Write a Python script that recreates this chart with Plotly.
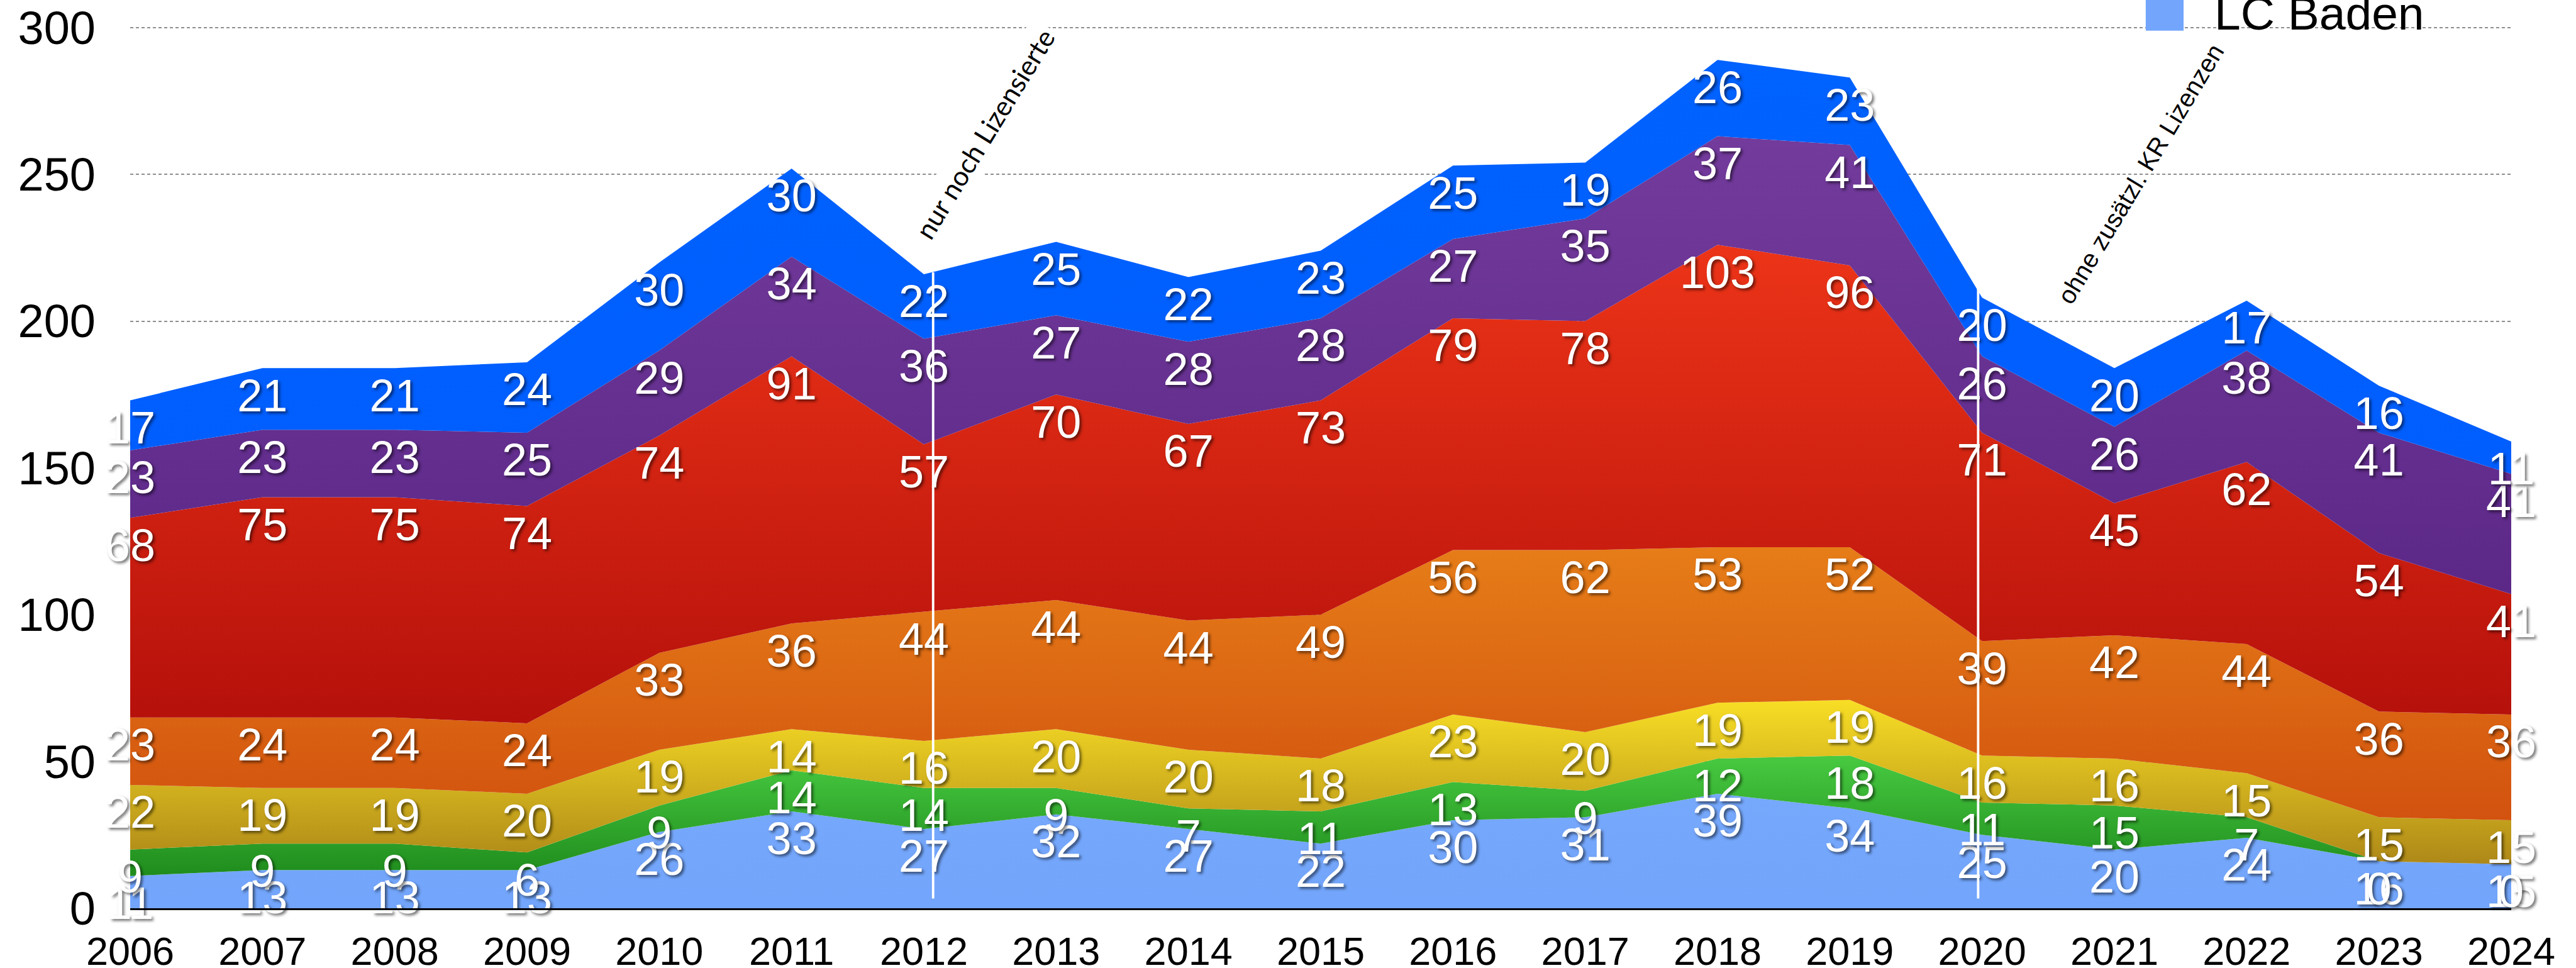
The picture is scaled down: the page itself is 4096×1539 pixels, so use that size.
import plotly.graph_objects as go
import numpy as np

# ---------------- data ----------------
years = list(range(2006, 2025))
lc_baden = [11, 13, 13, 13, 26, 33, 27, 32, 27, 22, 30, 31, 39, 34, 25, 20, 24, 16, 15]
green    = [9, 9, 9, 6, 9, 14, 14, 9, 7, 11, 13, 9, 12, 18, 11, 15, 7, 0, 0]
yellow   = [22, 19, 19, 20, 19, 14, 16, 20, 20, 18, 23, 20, 19, 19, 16, 16, 15, 15, 15]
orange   = [23, 24, 24, 24, 33, 36, 44, 44, 44, 49, 56, 62, 53, 52, 39, 42, 44, 36, 36]
red      = [68, 75, 75, 74, 74, 91, 57, 70, 67, 73, 79, 78, 103, 96, 71, 45, 62, 54, 41]
purple   = [23, 23, 23, 25, 29, 34, 36, 27, 28, 28, 27, 35, 37, 41, 26, 26, 38, 41, 41]
blue     = [17, 21, 21, 24, 30, 30, 22, 25, 22, 23, 25, 19, 26, 23, 20, 20, 17, 16, 11]

y_ticks = [0, 50, 100, 150, 200, 250, 300]
legend_label = "LC Baden"
marker_years = [2012, 2020]
marker_texts = ["nur noch Lizensierte", "ohne zusätzl. KR Lizenzen"]

# ---------------- style ----------------
S = 0.956
W, H = 4096, 1539
series = [
    ("LC Baden", lc_baden, [[0, "#72A5FB"], [1, "#76A8FC"]]),
    ("Grün", green, [[0, "#1F8C1D"], [1, "#48CA41"]]),
    ("Gelb", yellow, [[0, "#AE8818"], [1, "#F8DE25"]]),
    ("Orange", orange, [[0, "#D2520F"], [1, "#E67D18"]]),
    ("Rot", red, [[0, "#B5100B"], [1, "#EC3418"]]),
    ("Violett", purple, [[0, "#5C2888"], [1, "#733B9C"]]),
    ("Blau", blue, [[0, "#005EFE"], [1, "#0062FF"]]),
]
LABEL_DROP = 10.8
label_font = dict(family="Liberation Sans, Arial, sans-serif", size=72, color="white",
                  shadow="3px 3px 4px rgba(0,0,0,0.55)")

fig = go.Figure()
for name, vals, cs in series:
    fig.add_trace(go.Scatter(
        x=years, y=vals, name=name, stackgroup="one", mode="none",
        fillgradient=dict(type="vertical", colorscale=cs),
        showlegend=False, hoverinfo="x+y+name",
    ))

cum = np.zeros(len(years))
for name, vals, cs in series:
    cum = cum + np.array(vals)
    fig.add_trace(go.Scatter(
        x=years, y=(cum - LABEL_DROP).tolist(), mode="text",
        text=[str(v) for v in vals], textposition="middle center",
        textfont=label_font, cliponaxis=False, showlegend=False, hoverinfo="skip",
    ))

totals = cum.tolist()

# vertical white marker lines
line_offsets = [0.07, -0.03]
line_over = [0.6, 4.0]
for yr, off, over in zip(marker_years, line_offsets, line_over):
    idx = years.index(yr)
    fig.add_shape(type="line", xref="x", yref="y", x0=yr + off, x1=yr + off,
                  y0=3.3, y1=totals[idx] + over,
                  line=dict(color="white", width=4 * S), layer="above")

# rotated notes
fig.add_annotation(x=2012.46, y=263.9, text=marker_texts[0], textangle=-58.5, showarrow=False,
                   font=dict(family="Lato, sans-serif", size=43, color="black"),
                   bgcolor="white", borderpad=6)
fig.add_annotation(x=2021.2, y=250.2, text=marker_texts[1], textangle=-59, showarrow=False,
                   font=dict(family="Liberation Sans, Arial, sans-serif", size=40, color="black"))

# legend (one visible entry)
fig.add_shape(type="rect", xref="paper", yref="paper", x0=0.8465, x1=0.8624, y0=0.9952, y1=1.0386,
              fillcolor="#72A5FB", line=dict(width=0), layer="above")
fig.add_annotation(xref="paper", yref="paper", x=0.8748, y=0.9836, xanchor="left", yanchor="bottom",
                   text=legend_label, showarrow=False,
                   font=dict(family="Liberation Sans, Arial, sans-serif", size=75, color="black"))

fig.update_layout(
    width=W, height=H,
    margin=dict(l=207, r=103, t=42, b=95, autoexpand=False),
    paper_bgcolor="white", plot_bgcolor="white",
    showlegend=False,
    xaxis=dict(range=[2006, 2024], tickvals=years, ticktext=[str(y) for y in years],
               showgrid=False, zeroline=False, showline=True, linecolor="black", linewidth=3,
               ticks="", ticklabelstandoff=11, automargin=False,
               tickfont=dict(family="Liberation Sans, Arial, sans-serif", size=63, color="black")),
    yaxis=dict(range=[0, 300.4], tickvals=y_ticks, showgrid=True, gridcolor="#8e8e8e", gridwidth=2,
               griddash="5px,4px", zeroline=False, showline=False, ticks="", ticklabelstandoff=54,
               automargin=False,
               tickfont=dict(family="Liberation Sans, Arial, sans-serif", size=74, color="black")),
)

fig.write_html("out.html", config={"displayModeBar": False},
               post_script="document.body.style.margin='0';document.body.style.overflow='hidden';")
